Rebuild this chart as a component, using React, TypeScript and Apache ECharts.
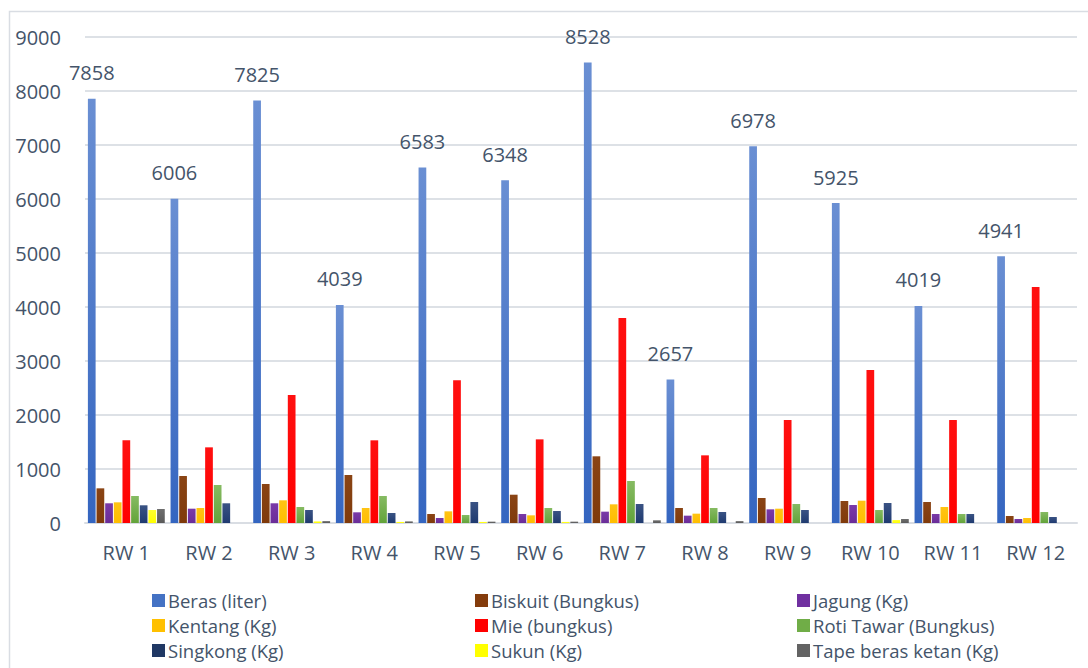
import React, { useEffect, useRef } from "react";
import * as echarts from "echarts";

const categories = ["RW 1", "RW 2", "RW 3", "RW 4", "RW 5", "RW 6", "RW 7", "RW 8", "RW 9", "RW 10", "RW 11", "RW 12"];

const beras = [7858, 6006, 7825, 4039, 6583, 6348, 8528, 2657, 6978, 5925, 4019, 4941];
const biskuit = [642, 870, 722, 889, 167, 524, 1235, 278, 463, 407, 389, 130];
const jagung = [365, 265, 365, 198, 93, 167, 210, 136, 253, 333, 167, 74];
const kentang = [383, 278, 420, 278, 216, 142, 346, 173, 265, 413, 296, 93];
const mie = [1531, 1401, 2370, 1531, 2642, 1549, 3796, 1253, 1907, 2833, 1907, 4370];
const rotiTawar = [500, 704, 296, 500, 148, 278, 778, 278, 352, 241, 167, 204];
const singkong = [328, 365, 241, 185, 389, 222, 352, 204, 241, 370, 167, 111];
const sukun = [241, 0, 30, 20, 20, 20, 0, 0, 0, 55, 0, 0];
const tape = [259, 0, 35, 30, 25, 25, 50, 35, 0, 74, 0, 0];

const seriesNames = [
  "Beras (liter)",
  "Biskuit (Bungkus)",
  "Jagung (Kg)",
  "Kentang (Kg)",
  "Mie (bungkus)",
  "Roti Tawar (Bungkus)",
  "Singkong (Kg)",
  "Sukun (Kg)",
  "Tape beras ketan (Kg)",
];
const seriesData = [beras, biskuit, jagung, kentang, mie, rotiTawar, singkong, sukun, tape];

const yTicks = [0, 1000, 2000, 3000, 4000, 5000, 6000, 7000, 8000, 9000];

const grad = (top: string, bottom: string) =>
  new echarts.graphic.LinearGradient(0, 0, 0, 1, [
    { offset: 0, color: top },
    { offset: 1, color: bottom },
  ]);

const colors = [
  grad("#6a8fd3", "#3465c0"),
  grad("#8a4414", "#7f3a0b"),
  grad("#7a3aa8", "#6a2d98"),
  grad("#ffc414", "#ffbd00"),
  grad("#ff1010", "#ff0000"),
  grad("#86bb62", "#63a33a"),
  grad("#3a5384", "#1f3a70"),
  grad("#ffff30", "#ffff00"),
  grad("#6e6e6e", "#5a5a5a"),
];
const legendColors = ["#4472c4", "#843c0c", "#7030a0", "#ffc000", "#ff0000", "#70ad47", "#203864", "#ffff00", "#636363"];

const FONT = "Open Sans";
const TEXT = "#44546a";

export default function App() {
  const ref = useRef<HTMLDivElement>(null);

  useEffect(() => {
    if (!ref.current) return;
    const chart = echarts.init(ref.current, undefined, { renderer: "svg" });

    const legendCols = [
      [0, 3, 6],
      [1, 4, 7],
      [2, 5, 8],
    ];
    const legendLefts = [152, 475, 797];

    chart.setOption({
      animation: false,
      backgroundColor: "#ffffff",
      textStyle: { fontFamily: FONT },
      grid: { left: 85, right: 11, top: 37, bottom: 145 },
      graphic: [
        {
          type: "polyline",
          shape: { points: [[9.5, 680], [9.5, 11.5], [1100, 11.5]] },
          style: { stroke: "#d9dde3", lineWidth: 1.5, fill: null },
          silent: true,
        },
      ],
      legend: legendCols.map((col, i) => ({
        orient: "vertical",
        left: legendLefts[i],
        top: 591,
        padding: 0,
        itemWidth: 13,
        itemHeight: 13,
        itemGap: 6,
        icon: "rect",
        textStyle: { fontSize: 18.5, color: TEXT, fontFamily: FONT, padding: [0, 0, 0, -2] },
        data: col.map((k) => ({ name: seriesNames[k], itemStyle: { color: legendColors[k] } })),
      })),
      xAxis: {
        type: "category",
        data: categories,
        axisLine: { show: true, lineStyle: { color: "#d9dde3", width: 2 } },
        axisTick: { show: false },
        axisLabel: { color: TEXT, fontSize: 20, margin: 19, fontFamily: FONT },
      },
      yAxis: {
        type: "value",
        min: 0,
        max: 9000,
        interval: 1000,
        axisLine: { show: false },
        axisTick: { show: false },
        axisLabel: {
          color: TEXT,
          fontSize: 20,
          margin: 24,
          fontFamily: FONT,
          formatter: (v: number) => (yTicks.includes(v) ? String(v) : ""),
        },
        splitLine: { lineStyle: { color: "#dde1e6", width: 2 } },
      },
      series: seriesData.map((d, i) => ({
        name: seriesNames[i],
        type: "bar",
        data: d,
        barCategoryGap: "7%",
        barGap: "12%",
        itemStyle: { color: colors[i] },
        label:
          i === 0
            ? {
                show: true,
                position: "top",
                distance: 16,
                fontSize: 20,
                color: TEXT,
                fontFamily: FONT,
              }
            : { show: false },
      })),
    });

    return () => chart.dispose();
  }, []);

  return (
    <div
      ref={ref}
      style={{ position: "absolute", left: 0, top: 0, width: 1088, height: 668 }}
    />
  );
}
